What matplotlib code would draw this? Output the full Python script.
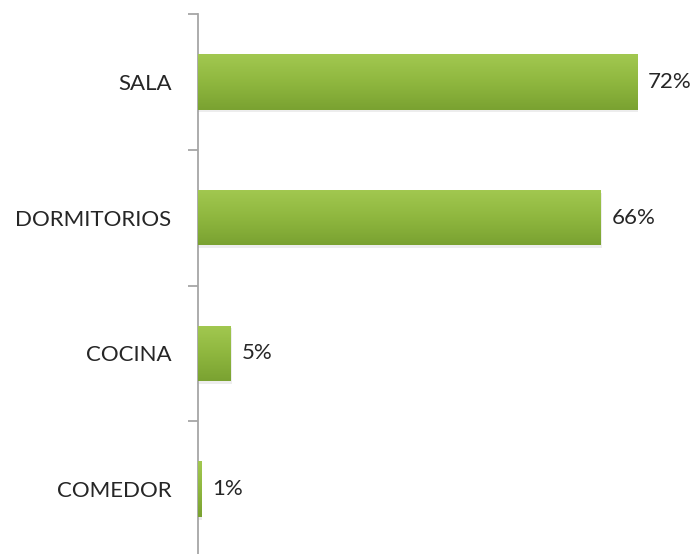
import numpy as np
import matplotlib.pyplot as plt
from matplotlib.colors import LinearSegmentedColormap

# ── Data ──
categories = ["SALA", "DORMITORIOS", "COCINA", "COMEDOR"]
values = [72, 66, 5.4, 0.5]
value_labels = ["72%", "66%", "5%", "1%"]

plt.rcParams["font.family"] = ["Lato", "DejaVu Sans"]

fig = plt.figure(figsize=(6.99, 5.54), dpi=100)
ax = fig.add_axes([198 / 699, -3 / 554, 1 - 198 / 699, 543 / 554])

n = len(categories)
ypos = np.arange(n)[::-1]  # SALA on top
bar_h = 0.41
xmax = 501 / 6.1

green = LinearSegmentedColormap.from_list("g", ["#7aa231", "#8fb73f", "#a2c850"])
grad = np.linspace(0, 1, 100).reshape(-1, 1)

for y, v, lab in zip(ypos, values, value_labels):
    # soft shadow
    ax.barh(y - 0.02, v + 0.15, height=bar_h, left=0.05, color="#000000",
            alpha=0.07, zorder=1, linewidth=0)
    bar = ax.barh(y, v, height=bar_h, color="#8fb73f", zorder=2, linewidth=0)[0]
    im = ax.imshow(grad, extent=[0, v, y - bar_h / 2, y + bar_h / 2],
                   aspect="auto", cmap=green, origin="lower", zorder=3)
    im.set_clip_path(bar)
    ax.text(v + 1.8, y, lab, va="center", ha="left", fontsize=16, color="#262626")

ax.set_xlim(0, xmax)
ax.set_ylim(-0.5, n - 0.5)

# ticks at category boundaries, labels at centres
ax.set_yticks(np.arange(-0.5, n, 1))
ax.set_yticklabels([])
ax.set_yticks(ypos, minor=True)
ax.set_yticklabels(categories, minor=True, fontsize=16, color="#262626")
ax.tick_params(axis="y", which="major", length=7, width=1.3, color="#a6a6a6", direction="out")
ax.tick_params(axis="y", which="minor", length=0, pad=19)
ax.set_xticks([])

for s in ["top", "right", "bottom"]:
    ax.spines[s].set_visible(False)
ax.spines["left"].set_color("#a6a6a6")
ax.spines["left"].set_linewidth(1.3)

fig.savefig("out.png", dpi=100)
